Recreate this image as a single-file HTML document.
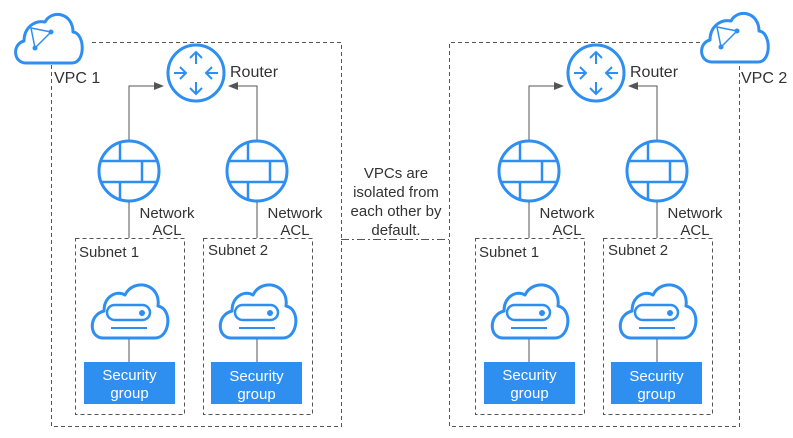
<!DOCTYPE html>
<html><head><meta charset="utf-8"><style>
html,body{margin:0;padding:0;background:#fff;}
svg{display:block;}
text{font-family:"Liberation Sans",sans-serif;font-size:15px;fill:#333;}
.w{fill:#fff;}
</style></head><body>
<svg width="793" height="438" viewBox="0 0 793 438" xmlns="http://www.w3.org/2000/svg">
<defs>
  <marker id="ar" markerWidth="10" markerHeight="10" refX="9" refY="5" orient="auto" markerUnits="userSpaceOnUse">
    <path d="M0,1 L10,5 L0,9 Z" fill="#555"/>
  </marker>
  <g id="vpccloud" fill="none" stroke="#2f8ff0" stroke-width="3">
    <path d="M26,63 C13,63 12,44 24,41 C24,28 34,20 45,22 C52,9 73,13 73,32 C85,33 86,63 72,63 Z" stroke-linejoin="round"/>
    <path d="M31,28 L51,32 L35,48 Z" stroke-width="1.5"/>
    <circle cx="51" cy="32" r="2.5" fill="#2f8ff0" stroke="none"/>
    <circle cx="35" cy="48" r="2.5" fill="#2f8ff0" stroke="none"/>
  </g>
  <g id="fw" fill="none" stroke="#2f8ff0" stroke-width="3">
    <circle cx="0" cy="0" r="30"/>
    <path d="M-29,-10 H29 M-29,11 H29 M-9,-29 V-10 M-9,11 V29 M13,-10 V11" stroke-width="2.5"/>
  </g>
  <g id="server" fill="none" stroke="#2f8ff0" stroke-width="3">
    <path d="M-26,25 C-40,25 -41,2 -25,-2 C-25,-17 -12,-23 -4,-18 C4,-35 32,-30 29,-7 C44,-4 41,25 26,25 Z" stroke-linejoin="round"/>
    <rect x="-22" y="-8" width="43" height="15" rx="7.5" stroke-width="2.5"/>
    <circle cx="13" cy="0" r="3" fill="#2f8ff0" stroke="none"/>
    <path d="M-18,15 H18" stroke-width="2"/>
  </g>
  <g id="vpc">
    <circle cx="196" cy="73" r="28" fill="none" stroke="#2f8ff0" stroke-width="3"/>
    <g stroke="#2f8ff0" stroke-width="2" fill="none">
      <path d="M196,64 V52 M190,58 L196,52 L202,58"/>
      <path d="M196,82 V94 M190,88 L196,94 L202,88"/>
      <path d="M174,73 H186 M180,67 L186,73 L180,79"/>
      <path d="M218,73 H206 M212,67 L206,73 L212,79"/>
    </g>
    <text x="230" y="77" style="font-size:16px">Router</text>
    <path d="M129,140 V86 H163" fill="none" stroke="#555" stroke-width="1" marker-end="url(#ar)"/>
    <path d="M257,140 V86 H229" fill="none" stroke="#555" stroke-width="1" marker-end="url(#ar)"/>
    <use href="#fw" x="129" y="171"/>
    <use href="#fw" x="257" y="171"/>
    <path d="M129,202 V238 M257,202 V238" stroke="#555" stroke-width="1"/>
    <text x="167" y="218" text-anchor="middle">Network</text>
    <text x="167" y="235" text-anchor="middle">ACL</text>
    <text x="295" y="218" text-anchor="middle">Network</text>
    <text x="295" y="235" text-anchor="middle">ACL</text>
    <rect x="75.5" y="238.5" width="109" height="176" fill="none" stroke="#555" stroke-dasharray="4,3"/>
    <rect x="203.5" y="238.5" width="109" height="176" fill="none" stroke="#555" stroke-dasharray="4,3"/>
    <text x="79" y="257">Subnet 1</text>
    <text x="208" y="255">Subnet 2</text>
    <use href="#server" x="129" y="313"/>
    <use href="#server" x="257" y="313"/>
    <path d="M129,339 V362 M257,339 V362" stroke="#555" stroke-width="1"/>
    <rect x="84" y="362" width="91" height="42" fill="#2f8ff0"/>
    <rect x="211" y="362" width="91" height="42" fill="#2f8ff0"/>
    <text class="w" x="129.5" y="380" text-anchor="middle">Security</text>
    <text class="w" x="129.5" y="398" text-anchor="middle">group</text>
    <text class="w" x="256.5" y="381" text-anchor="middle">Security</text>
    <text class="w" x="256.5" y="399" text-anchor="middle">group</text>
  </g>
</defs>

<path d="M51.5,65 V426.5 H341.5 V42.5 H90" fill="none" stroke="#555" stroke-dasharray="4,3"/>
<use href="#vpccloud"/>
<text x="54" y="83" style="font-size:16px">VPC 1</text>
<use href="#vpc"/>

<path d="M700,42.5 H449.5 V426.5 H739.5 V66" fill="none" stroke="#555" stroke-dasharray="4,3"/>
<use href="#vpccloud" x="686" y="-1"/>
<text x="741" y="83" style="font-size:16px">VPC 2</text>
<use href="#vpc" x="400"/>

<path d="M341,239.5 H449" stroke="#555" stroke-dasharray="8,3,2,3"/>
<text x="396" y="178" text-anchor="middle">VPCs are</text>
<text x="396" y="197" text-anchor="middle">isolated from</text>
<text x="396" y="216" text-anchor="middle">each other by</text>
<text x="396" y="235" text-anchor="middle">default.</text>
</svg>
</body></html>
